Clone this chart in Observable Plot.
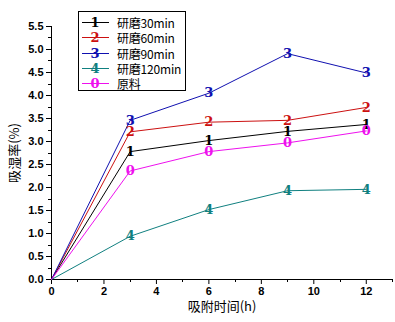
<!DOCTYPE html>
<html><head><meta charset="utf-8">
<script src="https://cdn.jsdelivr.net/npm/d3@7"></script>
<script src="https://cdn.jsdelivr.net/npm/@observablehq/plot@0.6"></script>
<style>
body{margin:0;background:#fff;}
#wrap{position:relative;width:395px;height:322px;}
#legend{position:absolute;left:78px;top:11px;width:106px;height:78px;border:1px solid #000;background:#fff;font-family:"Noto Sans CJK SC",sans-serif;font-size:12px;}
.row{position:absolute;left:0;height:15px;display:flex;align-items:center;white-space:nowrap;}
.row svg{display:block;flex:none}
.row span{margin-left:6px;line-height:15px;color:#000;white-space:nowrap;letter-spacing:-0.2px;}
</style>
</head><body>
<div id="wrap"></div>
<script>
const hours = [0, 3, 6, 9, 12];
const seriesNames = ["研磨30min", "研磨60min", "研磨90min", "研磨120min", "原料"];
const seriesSymbols = ["1", "2", "3", "4", "0"];
const seriesColors = ["#000000", "#cc1010", "#1010b0", "#108080", "#ee10ee"];
const s30 = [0, 2.78, 3.02, 3.22, 3.37];
const s60 = [0, 3.21, 3.42, 3.46, 3.74];
const s90 = [0, 3.46, 4.05, 4.91, 4.49];
const s120 = [0, 0.94, 1.52, 1.93, 1.96];
const raw = [0, 2.36, 2.78, 2.97, 3.23];
const seriesValues = [s30, s60, s90, s120, raw];
const xTicks = [0, 2, 4, 6, 8, 10, 12];
const xMinor = [1, 3, 5, 7, 9, 11, 13];
const yTicks = [0, 0.5, 1, 1.5, 2, 2.5, 3, 3.5, 4, 4.5, 5, 5.5];
const yMinor = [0.25, 0.75, 1.25, 1.75, 2.25, 2.75, 3.25, 3.75, 4.25, 4.75, 5.25];

const data = [];
seriesNames.forEach((name, i) => {
  hours.forEach((h, j) => data.push({series: name, sym: seriesSymbols[i], color: seriesColors[i], x: h, y: seriesValues[i][j]}));
});
const markerData = data.filter(d => d.x > 0);

const tickFont = {fontFamily: "Arial, 'Liberation Sans', sans-serif", fontWeight: "bold", fontSize: 11};
const plot = Plot.plot({
  width: 395, height: 322,
  marginLeft: 51, marginRight: 3, marginTop: 26, marginBottom: 43,
  style: {background: "#fff", overflow: "visible"},
  x: {domain: [0, 13]},
  y: {domain: [0, 5.5]},
  marks: [
    Plot.axisX({ticks: xTicks, tickSize: 5, tickFormat: d => String(d), tickPadding: 3, ...tickFont,
      label: "吸附时间(h)", labelAnchor: "center", labelArrow: "none", labelOffset: 31}),
    Plot.axisY({ticks: yTicks, tickSize: 5, tickFormat: d3.format(".1f"), tickPadding: 3, ...tickFont,
      label: "吸湿率(%)", labelAnchor: "center", labelArrow: "none", labelOffset: 42}),
    Plot.ruleY([0], {stroke: "#000"}),
    Plot.ruleX([0], {stroke: "#000"}),
    Plot.line(data, {x: "x", y: "y", z: "series", stroke: "color", strokeWidth: 1}),
    Plot.text(markerData, {x: "x", y: "y", text: "sym", fill: "color", fontWeight: "bold",
      fontFamily: "'DejaVu Serif', 'Liberation Serif', serif", fontSize: 13})
  ]
});
plot.querySelectorAll('[aria-label="x-axis label"] text, [aria-label="y-axis label"] text').forEach(t => {
  t.style.fontFamily = "'Noto Sans CJK SC', sans-serif"; t.style.fontSize = "13px"; t.style.fontWeight = "normal";
});
// minor ticks positioned through the chart's own scales
const xs = plot.scale("x"), ys = plot.scale("y");
const ns = "http://www.w3.org/2000/svg";
const g = document.createElementNS(ns, "g");
g.setAttribute("stroke", "#000");
const y0 = ys.apply(0), x0 = xs.apply(0);
xMinor.forEach(v => {
  const l = document.createElementNS(ns, "line");
  const px = Math.round(xs.apply(v)) + 0.5;
  l.setAttribute("x1", px); l.setAttribute("x2", px); l.setAttribute("y1", y0); l.setAttribute("y2", y0 + 3);
  g.appendChild(l);
});
yMinor.forEach(v => {
  const l = document.createElementNS(ns, "line");
  const py = Math.round(ys.apply(v)) + 0.5;
  l.setAttribute("y1", py); l.setAttribute("y2", py); l.setAttribute("x1", x0); l.setAttribute("x2", x0 - 3);
  g.appendChild(l);
});
plot.appendChild(g);

const wrap = document.getElementById("wrap");
wrap.appendChild(plot);

const legend = document.createElement("div");
legend.id = "legend";
seriesNames.forEach((name, i) => {
  const row = document.createElement("div");
  row.className = "row";
  row.style.top = (3 + i * 15.3) + "px";
  row.innerHTML = `<svg width="32" height="15"><line x1="3" x2="30" y1="7.5" y2="7.5" stroke="${seriesColors[i]}" stroke-width="1"/>` +
    `<text x="16" y="12" text-anchor="middle" fill="${seriesColors[i]}" font-weight="bold" font-family="'DejaVu Serif', serif" font-size="13">${seriesSymbols[i]}</text></svg>` +
    `<span>${name}</span>`;
  legend.appendChild(row);
});
wrap.appendChild(legend);
</script>
</body></html>
